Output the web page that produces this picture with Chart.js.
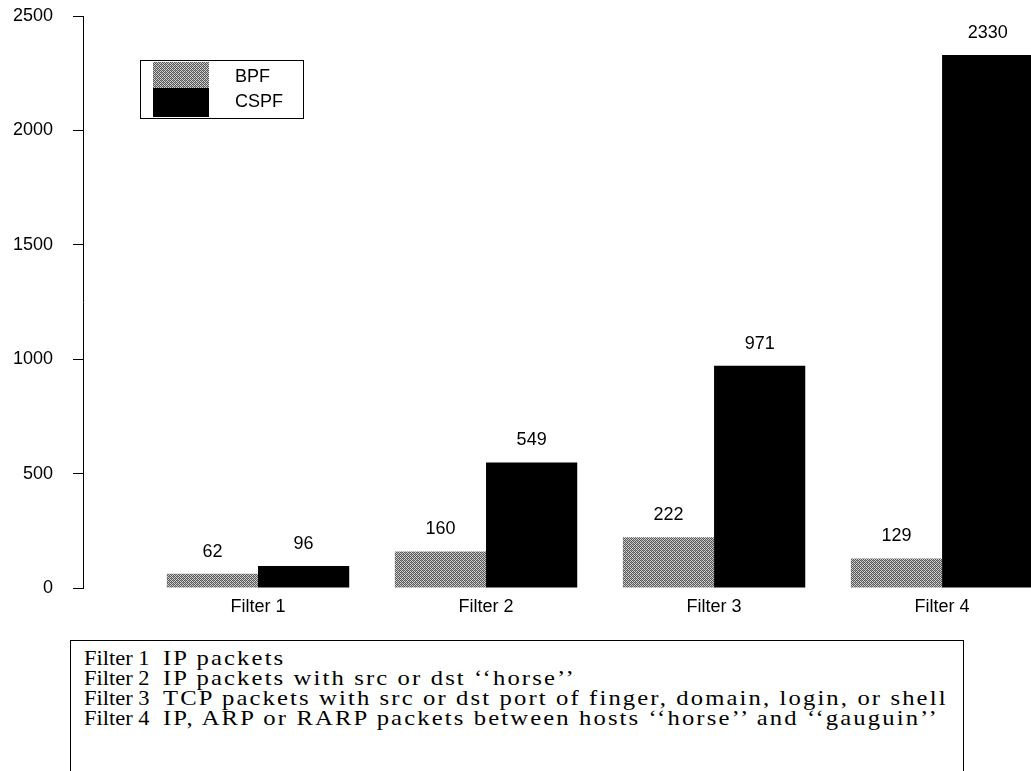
<!DOCTYPE html>
<html>
<head>
<meta charset="utf-8">
<script src="https://cdn.jsdelivr.net/npm/chart.js@4/dist/chart.umd.min.js"></script>
<style>
  html, body { margin: 0; padding: 0; background: #fff; overflow: hidden; }
  #wrap { position: absolute; left: 0; top: 0; width: 1031px; height: 630px; }
  #desc {
    position: absolute; left: 70px; top: 640px; width: 894px; height: 160px;
    border-left: 1px solid #000; border-top: 1px solid #000; border-right: 1px solid #000;
    font-family: "Liberation Serif", "Times New Roman", serif; font-size: 22px; color: #000;
    padding-top: 7px; box-sizing: border-box;
  }
  .row { height: 20px; line-height: 20px; white-space: nowrap; position: relative; }
  .row span { position: absolute; top: 0; transform-origin: 0 50%; }
  .row .k { left: 13px; transform: scaleX(1.02); }
  .row .v { left: 92px; transform: scaleX(1.12); letter-spacing: 1.9px; }
</style>
</head>
<body>
<div id="wrap"><canvas id="c"></canvas></div>
<div id="desc"></div>
<script>
// ---- data ----
const categories = ['Filter 1', 'Filter 2', 'Filter 3', 'Filter 4'];
const seriesNames = ['BPF', 'CSPF'];
const bpfValues = [62, 160, 222, 129];
const cspfValues = [96, 549, 971, 2330];
const yTicks = [0, 500, 1000, 1500, 2000, 2500];
const filterDescriptions = [
  'IP packets',
  'IP packets with src or dst \u2018\u2018horse\u2019\u2019',
  'TCP packets with src or dst port of finger, domain, login, or shell',
  'IP, ARP or RARP packets between hosts \u2018\u2018horse\u2019\u2019 and \u2018\u2018gauguin\u2019\u2019'
];

// description table
const desc = document.getElementById('desc');
categories.forEach((c, i) => {
  const r = document.createElement('div');
  r.className = 'row';
  r.innerHTML = '<span class="k"></span><span class="v"></span>';
  r.querySelector('.k').textContent = c;
  r.querySelector('.v').textContent = filterDescriptions[i];
  desc.appendChild(r);
});

// stipple pattern for BPF
function makePattern() {
  const p = document.createElement('canvas');
  p.width = 4; p.height = 4;
  const g = p.getContext('2d');
  g.fillStyle = '#d0d0d0'; g.fillRect(0, 0, 4, 4);
  g.fillStyle = '#5a5a5a';
  [[0,0],[2,0],[1,1],[3,1],[0,2],[2,2],[1,3],[3,3]].forEach(([x,y]) => g.fillRect(x, y, 1, 1));
  g.fillStyle = '#999';
  [[1,0],[3,2]].forEach(([x,y]) => g.fillRect(x, y, 1, 1));
  return g.createPattern(p, 'repeat');
}
const bpfFill = makePattern();

const font = { family: '"Liberation Sans", Arial, Helvetica, sans-serif', size: 18 };

const valueLabels = {
  id: 'valueLabels',
  afterDatasetsDraw(chart) {
    const ctx = chart.ctx;
    ctx.save();
    ctx.font = font.size + 'px ' + font.family;
    ctx.fillStyle = '#000';
    ctx.textAlign = 'center';
    ctx.textBaseline = 'middle';
    chart.data.datasets.forEach((ds, di) => {
      chart.getDatasetMeta(di).data.forEach((el, i) => {
        ctx.fillText(String(ds.data[i].y), el.x, el.y - 22);
      });
    });
    ctx.restore();
  }
};

const boxLegend = {
  id: 'boxLegend',
  afterDraw(chart) {
    const ctx = chart.ctx;
    const x0 = 140, y0 = 60, w = 163, h = 58;
    ctx.save();
    ctx.fillStyle = '#fff';
    ctx.fillRect(x0, y0, w, h);
    ctx.strokeStyle = '#000';
    ctx.lineWidth = 1;
    ctx.strokeRect(x0 + 0.5, y0 + 0.5, w, h);
    ctx.font = font.size + 'px ' + font.family;
    ctx.textBaseline = 'middle';
    ctx.textAlign = 'left';
    const rows = [[62, 26, 77], [88, 29, 102]];
    chart.data.datasets.forEach((ds, i) => {
      ctx.fillStyle = ds.backgroundColor;
      ctx.fillRect(153, rows[i][0], 56, rows[i][1]);
      ctx.fillStyle = '#000';
      ctx.fillText(ds.label, 235, rows[i][2]);
    });
    ctx.restore();
  }
};

new Chart(document.getElementById('c'), {
  type: 'bar',
  data: {
    datasets: [
      { label: seriesNames[0], data: bpfValues.map((v, i) => ({ x: i + 1, y: v })), backgroundColor: bpfFill },
      { label: seriesNames[1], data: cspfValues.map((v, i) => ({ x: i + 1, y: v })), backgroundColor: '#000' }
    ]
  },
  options: {
    responsive: true,
    maintainAspectRatio: false,
    animation: false,
    layout: { padding: { left: 0, right: 0, top: 16, bottom: 0 } },
    datasets: { bar: { categoryPercentage: 0.8, barPercentage: 1.0, borderWidth: 0 } },
    plugins: { legend: { display: false }, tooltip: { enabled: false } },
    scales: {
      x: {
        type: 'linear',
        min: 0.2325, max: 4.39,
        offset: false,
        grid: { display: false, drawTicks: false },
        border: { display: false },
        afterBuildTicks: (s) => { s.ticks = categories.map((c, i) => ({ value: i + 1 })); },
        afterFit: (s) => { s.height = 42; s.paddingLeft = 0; s.paddingRight = 0; },
        ticks: {
          autoSkip: false, maxRotation: 0, padding: 8, color: '#000', font,
          callback: (v) => categories[Math.round(v) - 1]
        }
      },
      y: {
        min: 0, max: 2500,
        afterBuildTicks: (s) => { s.ticks = yTicks.map(v => ({ value: v })); },
        afterFit: (s) => { s.width = 83; s.paddingTop = 0; s.paddingBottom = 0; },
        grid: { drawOnChartArea: false, tickLength: 10, color: '#000', lineWidth: 1 },
        border: { display: true, color: '#000', width: 1 },
        ticks: { padding: 20, color: '#000', font, callback: (v) => String(v) }
      }
    }
  },
  plugins: [valueLabels, boxLegend]
});
</script>
</body>
</html>
